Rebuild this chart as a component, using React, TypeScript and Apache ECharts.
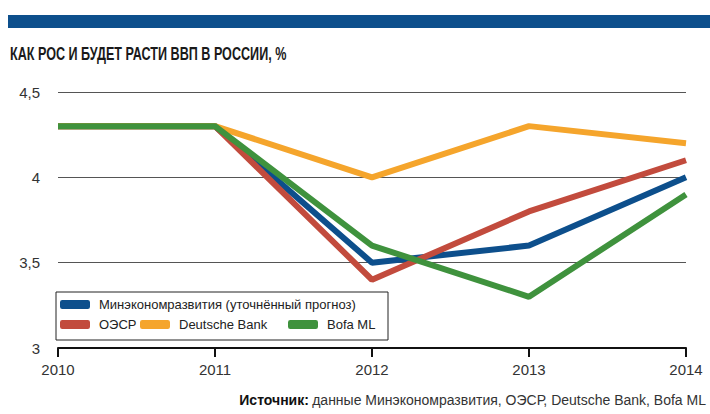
import React, { useEffect, useRef } from "react";
import * as echarts from "echarts";

const years = ["2010", "2011", "2012", "2013", "2014"];
const minek = [4.3, 4.3, 3.5, 3.6, 4.0];
const oecd = [4.3, 4.3, 3.4, 3.8, 4.1];
const deutsche = [4.3, 4.3, 4.0, 4.3, 4.2];
const bofa = [4.3, 4.3, 3.6, 3.3, 3.9];
const seriesNames = ["Минэкономразвития (уточнённый прогноз)", "ОЭСР", "Deutsche Bank", "Bofa ML"];
const colors = ["#0d4f8c", "#c24b3d", "#f5a52c", "#3f923d"];

const FONT = "'Liberation Sans', Arial, sans-serif";

export default function App() {
  const ref = useRef<HTMLDivElement>(null);
  useEffect(() => {
    const chart = echarts.init(ref.current!, null, { renderer: "svg" });
    const data = [minek, oecd, deutsche, bofa];
    const legendPos = [
      { left: 60, top: 298 },
      { left: 60, top: 318 },
      { left: 140, top: 318 },
      { left: 288, top: 318 },
    ];
    chart.setOption({
      animation: false,
      backgroundColor: "#ffffff",
      textStyle: { fontFamily: FONT },
      grid: { left: 58, right: 24, top: 92, bottom: 66, containLabel: false },
      xAxis: {
        type: "category",
        data: years,
        boundaryGap: false,
        axisLine: { show: true, lineStyle: { color: "#111", width: 2 } },
        axisTick: { show: true, inside: false, length: 9, lineStyle: { color: "#111", width: 2 } },
        axisLabel: { color: "#333", fontSize: 15, fontFamily: FONT, margin: 14 },
        splitLine: { show: false },
      },
      yAxis: {
        type: "value",
        min: 3,
        max: 4.5,
        interval: 0.5,
        axisLine: { show: false },
        axisTick: { show: false },
        axisLabel: {
          color: "#333",
          fontSize: 15,
          fontFamily: FONT,
          margin: 18,
          formatter: (v: number) => String(v).replace(".", ","),
        },
        splitLine: { show: true, lineStyle: { color: "#555", width: 1 } },
      },
      legend: seriesNames.map((n, i) => ({
        data: [n],
        left: legendPos[i].left,
        top: legendPos[i].top,
        orient: "horizontal",
        icon: "roundRect",
        itemWidth: 30,
        itemHeight: 9,
        itemGap: 0,
        padding: 0,
        selectedMode: false,
        textStyle: { color: "#222", fontSize: 13, fontFamily: FONT, padding: [0, 0, 0, 4] },
      })),
      series: seriesNames.map((n, i) => ({
        name: n,
        type: "line",
        data: data[i],
        symbol: "none",
        lineStyle: { color: colors[i], width: 6 },
        itemStyle: { color: colors[i] },
        z: 2 + i,
      })),
      graphic: [
        { type: "rect", shape: { x: 8, y: 15, width: 702, height: 13 }, style: { fill: "#0d4f8c" } },
        {
          type: "text",
          x: 10,
          y: 45,
          scaleX: 0.7,
          style: {
            text: "КАК РОС И БУДЕТ РАСТИ ВВП В РОССИИ, %",
            fill: "#1a1a1a",
            font: "bold 18px " + FONT,
          },
        },
        {
          type: "rect",
          z: 1,
          shape: { x: 56, y: 292, width: 332, height: 48 },
          style: { fill: "#fff", stroke: "#222", lineWidth: 1 },
        },
        {
          type: "text",
          right: 4,
          top: 393,
          style: {
            rich: {
              b: { font: "bold 14px " + FONT, fill: "#111" },
              n: { font: "14px " + FONT, fill: "#333" },
            },
            text: "{b|Источник:} {n|данные Минэкономразвития, ОЭСР, Deutsche Bank, Bofa ML}",
          },
        },
      ],
    });
    return () => chart.dispose();
  }, []);
  return <div ref={ref} style={{ position: "fixed", left: 0, top: 0, width: 710, height: 414 }} />;
}
